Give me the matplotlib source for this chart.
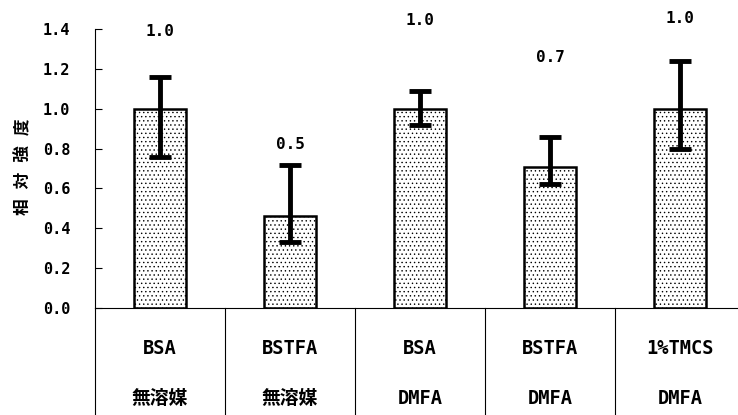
import matplotlib
matplotlib.use('Agg')
import matplotlib.pyplot as plt
import matplotlib.transforms as mtransforms

plt.rcParams['font.family'] = ['DejaVu Sans Mono', 'Noto Sans CJK JP']
plt.rcParams['font.weight'] = 'bold'
plt.rcParams['hatch.linewidth'] = 0.5

# data
reagents = ['BSA', 'BSTFA', 'BSA', 'BSTFA', '1%TMCS']
solvents = ['無溶媒', '無溶媒', 'DMFA', 'DMFA', 'DMFA']
values = [1.0, 0.46, 1.0, 0.71, 1.0]
err_low = [0.24, 0.13, 0.08, 0.09, 0.20]
err_high = [0.16, 0.26, 0.09, 0.15, 0.24]
value_labels = ['1.0', '0.5', '1.0', '0.7', '1.0']
label_y = [1.385, 0.82, 1.445, 1.255, 1.455]

fig = plt.figure(figsize=(7.38, 4.15), dpi=100)
ax = fig.add_axes([95 / 738, 1 - 308 / 415, (738 - 95) / 738, (308 - 29) / 415])

x = list(range(len(values)))
ax.bar(x, values, width=0.4, color='white', edgecolor='black',
       linewidth=1.8, hatch='....', zorder=2)
ax.errorbar(x, values, yerr=[err_low, err_high], fmt='none', ecolor='black',
            elinewidth=3.5, capsize=8, capthick=3.5, zorder=3)

for xi, yi, txt in zip(x, label_y, value_labels):
    ax.text(xi, yi, txt, ha='center', va='center', fontsize=11.5,
            fontweight='bold', clip_on=False)

ax.set_xlim(-0.5, 4.446)
ax.set_ylim(0, 1.4)
ax.set_yticks([0, 0.2, 0.4, 0.6, 0.8, 1.0, 1.2, 1.4])
ax.set_yticklabels(['0.0', '0.2', '0.4', '0.6', '0.8', '1.0', '1.2', '1.4'],
                   fontsize=11, fontweight='bold')
ax.tick_params(axis='y', direction='in', length=5, width=0.8, pad=18)
ax.set_xticks([])
for s in ['top', 'right']:
    ax.spines[s].set_visible(False)
ax.spines['left'].set_linewidth(0.8)
ax.spines['bottom'].set_linewidth(0.8)

fig.text(23 / 738, 1 - 167 / 415, '相 対 強 度', rotation=90, ha='center',
         va='center', fontsize=12, fontweight='bold')

# category table below the axis
trans = mtransforms.blended_transform_factory(ax.transData, ax.transAxes)
bottom = -(415 - 308) / 279 - 0.02
for b in [-0.5, 0.5, 1.5, 2.5, 3.5, 4.5]:
    ax.plot([b, b], [0, bottom], color='black', lw=0.8, transform=trans,
            clip_on=False)
for xi, r, s in zip(x, reagents, solvents):
    ax.text(xi, -(348 - 308) / 279, r, ha='center', va='center', fontsize=13.5,
            fontweight='bold', transform=trans)
    ax.text(xi, -(398 - 308) / 279, s, ha='center', va='center', fontsize=13.5,
            fontweight='bold', transform=trans)

fig.savefig('out.png', dpi=100)
